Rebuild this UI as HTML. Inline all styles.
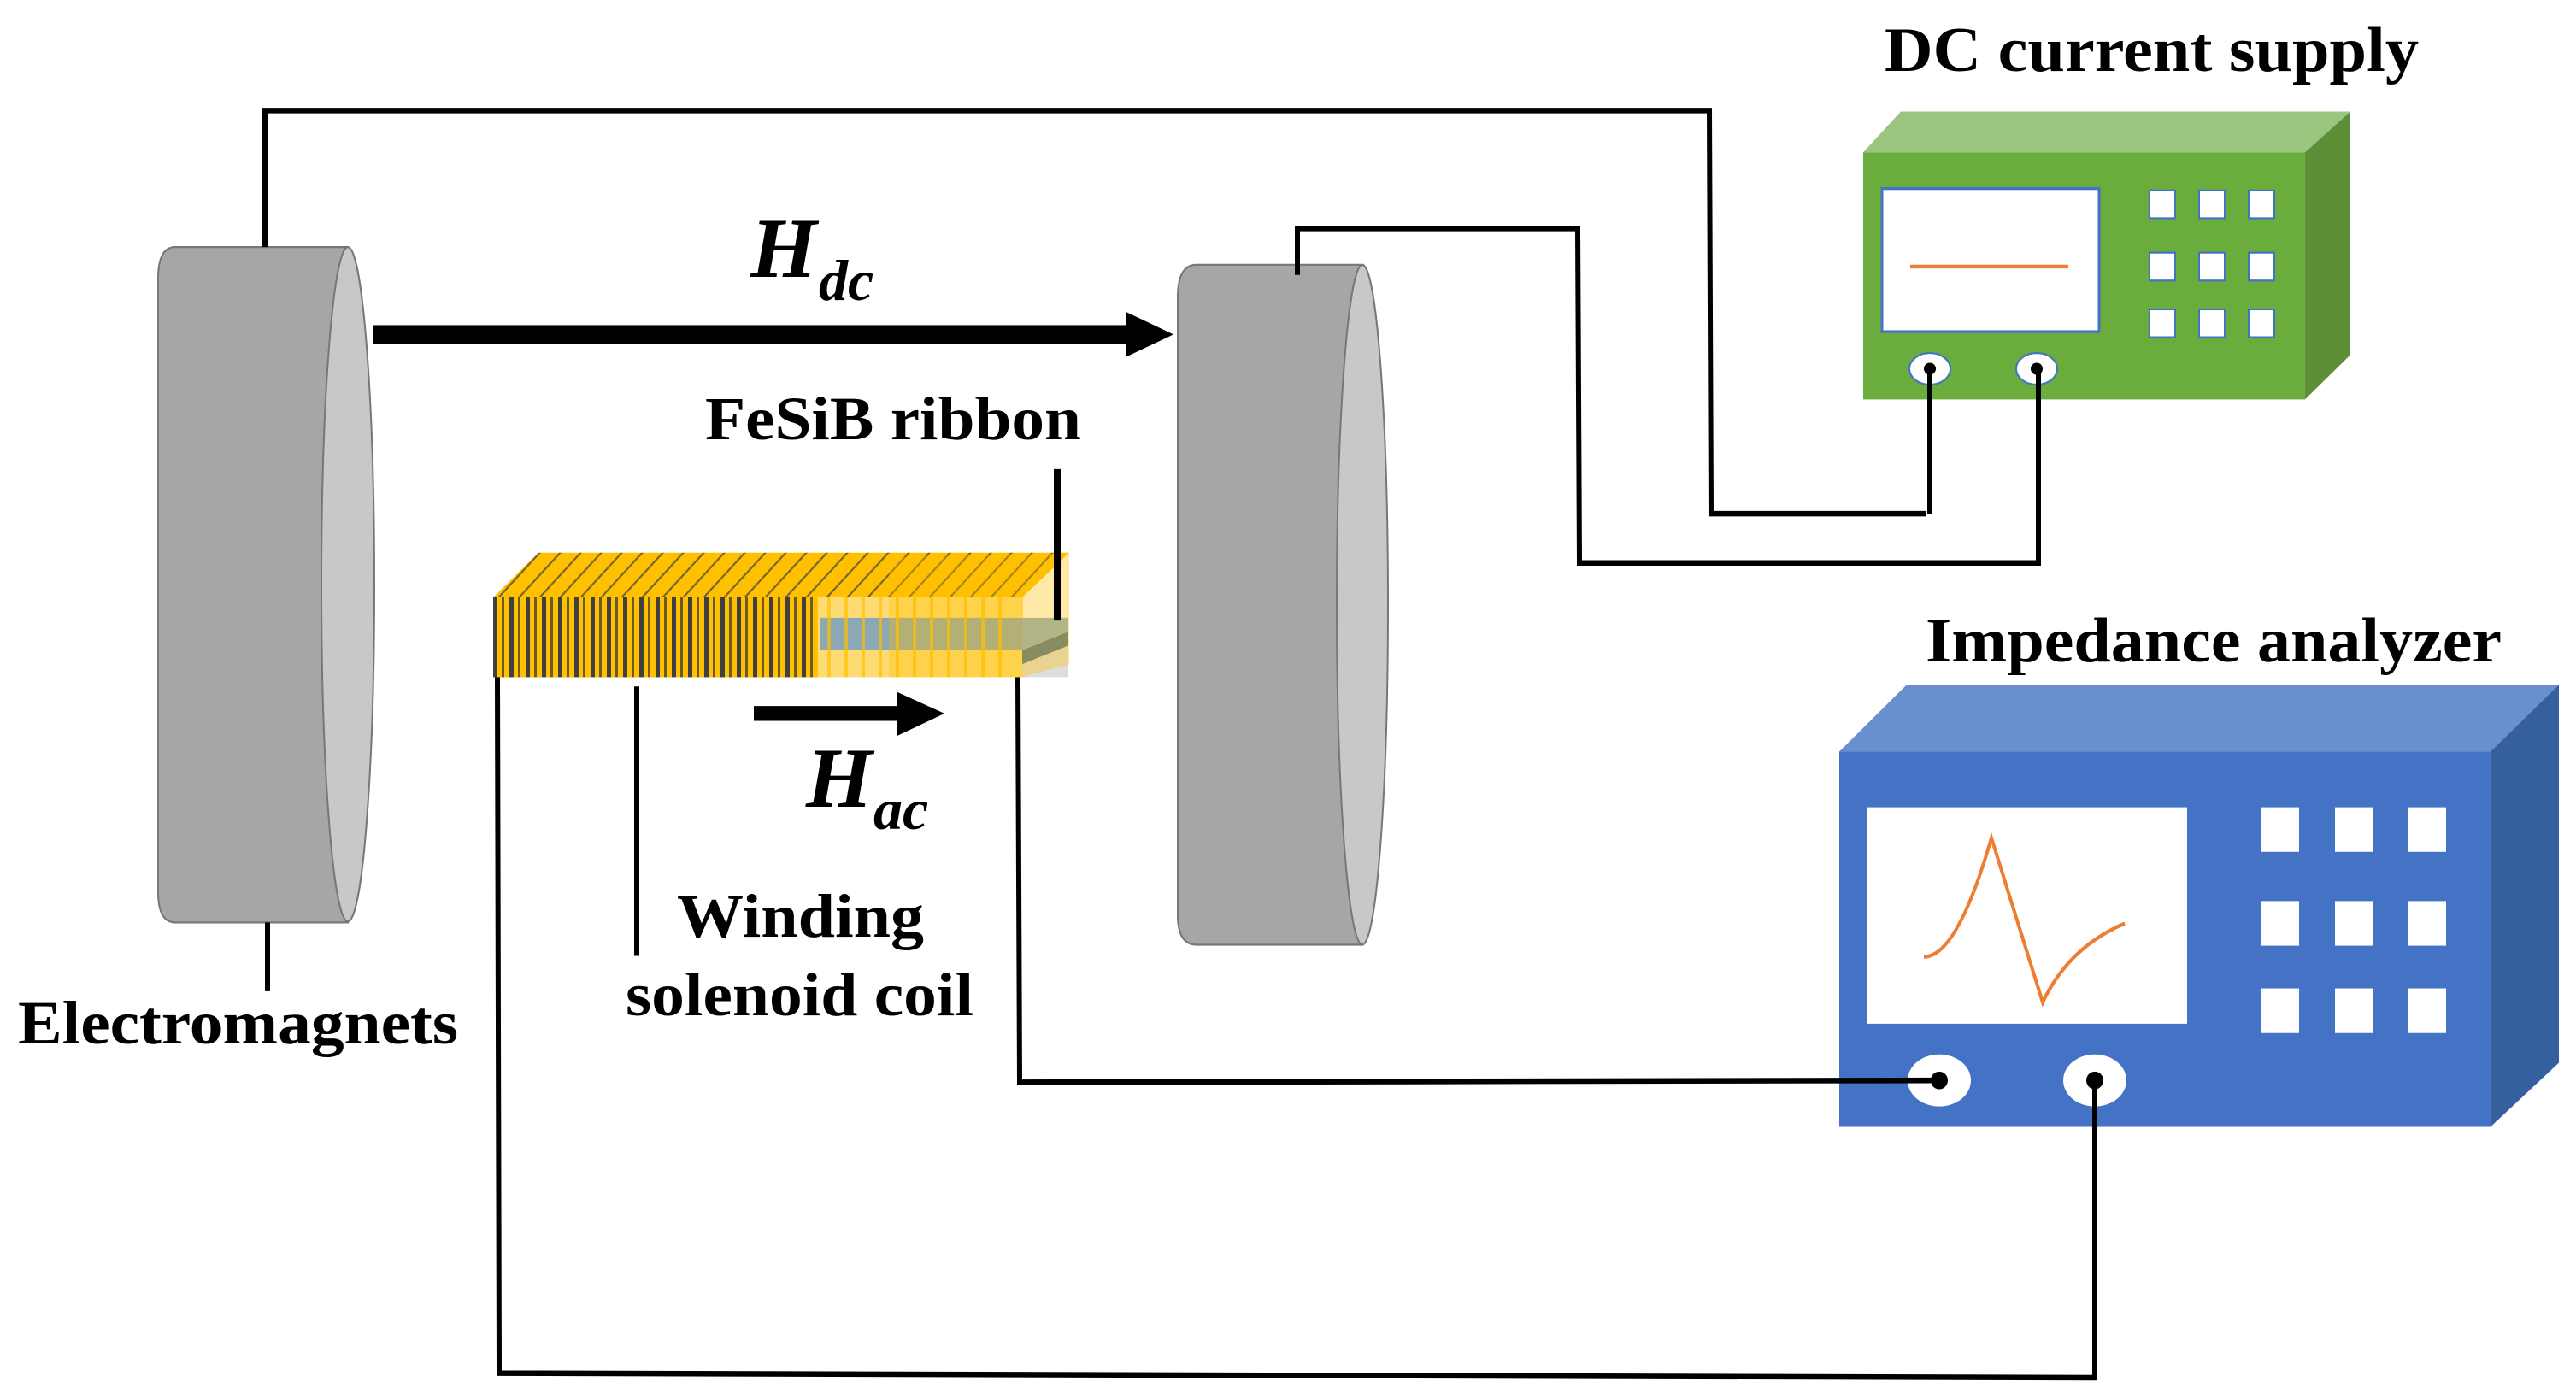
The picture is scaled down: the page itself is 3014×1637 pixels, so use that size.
<!DOCTYPE html>
<html><head><meta charset="utf-8"><style>
html,body{margin:0;padding:0;background:#fff;}
svg{display:block;}
text{font-family:"Liberation Serif",serif;font-weight:bold;fill:#000;}
</style></head><body>
<svg width="3014" height="1637" viewBox="0 0 3014 1637" xmlns="http://www.w3.org/2000/svg">
<defs>
<pattern id="coil" x="577" y="0" width="19" height="10" patternUnits="userSpaceOnUse">
<rect width="19" height="10" fill="#ffc000"/><rect x="0" width="5" height="10" fill="#404040"/><rect x="10" width="3" height="10" fill="#6b5a2a"/>
</pattern>
<pattern id="coilt" x="577" y="0" width="24" height="10" patternUnits="userSpaceOnUse" patternTransform="skewX(-45)">
<rect width="24" height="10" fill="#ffc000"/><rect x="0" width="3" height="10" fill="#7a6530"/>
</pattern>
</defs>
<g transform="scale(1,1.087)">
<path d="M407,266 L205,266 Q185,266 185,300 L185,960 Q185,993 205,993 L407,993 Z" fill="#a6a6a6" stroke="#777" stroke-width="2"/>
<ellipse cx="407" cy="629" rx="31" ry="363" fill="#c8c8c8" stroke="#777" stroke-width="2"/>
<path d="M1594,285 L1400,285 Q1378,285 1378,320 L1378,985 Q1378,1017 1400,1017 L1594,1017 Z" fill="#a6a6a6" stroke="#777" stroke-width="2"/>
<ellipse cx="1594" cy="651" rx="30" ry="366" fill="#c8c8c8" stroke="#777" stroke-width="2"/>
<rect x="436" y="350" width="890" height="20" fill="#000"/>
<polygon points="1318,336 1373,360 1318,384" fill="#000"/>
<polygon points="577,643 630,595 1251,595 1196,643" fill="url(#coilt)"/>
<rect x="577" y="643" width="380" height="86" fill="url(#coil)"/>
<rect x="957" y="643" width="240" height="86" fill="#ffc000" opacity="0.55"/>
<polygon points="960,665 1250,665 1250,680 1196,700 960,700" fill="#6f9bc4" opacity="0.8"/>
<polygon points="1196,700 1250,680 1250,695 1196,715" fill="#4a6f96"/>
<polygon points="1196,715 1250,695 1250,729 1196,729" fill="#ddd"/>
<polygon points="1040,600 1251,595 1251,715 1196,729 1040,729" fill="#ffc000" opacity="0.35"/>
<g stroke="#ffc000" stroke-width="4" opacity="0.7">
<line x1="970" y1="643" x2="970" y2="729"/><line x1="990" y1="643" x2="990" y2="729"/><line x1="1010" y1="643" x2="1010" y2="729"/><line x1="1030" y1="643" x2="1030" y2="729"/><line x1="1050" y1="643" x2="1050" y2="729"/><line x1="1070" y1="643" x2="1070" y2="729"/><line x1="1090" y1="643" x2="1090" y2="729"/><line x1="1110" y1="643" x2="1110" y2="729"/><line x1="1130" y1="643" x2="1130" y2="729"/><line x1="1150" y1="643" x2="1150" y2="729"/><line x1="1170" y1="643" x2="1170" y2="729"/>
</g>
<rect x="882" y="760" width="172" height="16" fill="#000"/>
<polygon points="1050,745 1105,768 1050,792" fill="#000"/>
<polygon points="2180,164 2224,120 2750,120 2697,164" fill="#9bc57f"/>
<polygon points="2697,164 2750,120 2750,382 2697,430" fill="#5c8f38"/>
<rect x="2180" y="164" width="517" height="266" fill="#6aad3c"/>
<rect x="2202" y="203" width="254" height="154" fill="#fff" stroke="#4472c4" stroke-width="3"/>
<line x1="2235" y1="287" x2="2420" y2="287" stroke="#ed7d31" stroke-width="4"/>
<g fill="#fff" stroke="#4472c4" stroke-width="2">
<rect x="2515" y="205" width="30" height="30"/><rect x="2573" y="205" width="30" height="30"/><rect x="2631" y="205" width="30" height="30"/>
<rect x="2515" y="272" width="30" height="30"/><rect x="2573" y="272" width="30" height="30"/><rect x="2631" y="272" width="30" height="30"/>
<rect x="2515" y="333" width="30" height="30"/><rect x="2573" y="333" width="30" height="30"/><rect x="2631" y="333" width="30" height="30"/>
<ellipse cx="2258" cy="397" rx="24" ry="17"/><ellipse cx="2383" cy="397" rx="24" ry="17"/>
</g>
<polygon points="2152,809 2231,737 2994,737 2914,809" fill="#6a8fcf"/>
<polygon points="2914,809 2994,737 2994,1144 2914,1213" fill="#365f9e"/>
<rect x="2152" y="809" width="762" height="404" fill="#4472c4"/>
<rect x="2185" y="869" width="374" height="233" fill="#fff"/>
<path d="M2251,1030 Q2290,1030 2330,902 L2390,1079 Q2420,1020 2486,994" fill="none" stroke="#ed7d31" stroke-width="4"/>
<g fill="#fff">
<rect x="2646" y="869" width="44" height="48"/><rect x="2732" y="869" width="44" height="48"/><rect x="2818" y="869" width="44" height="48"/>
<rect x="2646" y="970" width="44" height="48"/><rect x="2732" y="970" width="44" height="48"/><rect x="2818" y="970" width="44" height="48"/>
<rect x="2646" y="1064" width="44" height="48"/><rect x="2732" y="1064" width="44" height="48"/><rect x="2818" y="1064" width="44" height="48"/>
<ellipse cx="2269" cy="1163" rx="37" ry="28"/><ellipse cx="2451" cy="1163" rx="37" ry="28"/>
</g>
<g fill="none" stroke="#000" stroke-width="6">
<polyline points="310,266 310,119 2000,119 2002,553 2253,553"/>
<polyline points="1518,296 1518,246 1846,246 1848,606 2385,606 2385,397"/>
<line x1="2258" y1="397" x2="2258" y2="553"/>
<line x1="313" y1="993" x2="313" y2="1067"/>
<polyline points="582,729 584,1478 2451,1483 2451,1163"/>
<polyline points="1191,729 1193,1165 2269,1163"/>
<line x1="745" y1="739" x2="745" y2="1029"/>
<line x1="1237" y1="505" x2="1237" y2="668" stroke-width="8"/>
</g>
<ellipse cx="2258" cy="397" rx="7" ry="6.5" fill="#000"/><ellipse cx="2383" cy="397" rx="7" ry="6.5" fill="#000"/>
<ellipse cx="2269" cy="1163" rx="10" ry="9.5" fill="#000"/><ellipse cx="2451" cy="1163" rx="10" ry="9.5" fill="#000"/>
</g>
<text x="878" y="324" font-size="100" font-style="italic">H</text>
<text x="958" y="351" font-size="68" font-style="italic">dc</text>
<text x="943" y="944" font-size="100" font-style="italic">H</text>
<text x="1022" y="970" font-size="68" font-style="italic">ac</text>
<text x="825" y="514" font-size="72" textLength="440" lengthAdjust="spacingAndGlyphs">FeSiB ribbon</text>
<text x="792" y="1096" font-size="72" textLength="289" lengthAdjust="spacingAndGlyphs">Winding</text>
<text x="732" y="1188" font-size="72" textLength="407" lengthAdjust="spacingAndGlyphs">solenoid coil</text>
<text x="21" y="1221" font-size="72" textLength="515" lengthAdjust="spacingAndGlyphs">Electromagnets</text>
<text x="2205" y="83" font-size="74" textLength="625" lengthAdjust="spacingAndGlyphs">DC current supply</text>
<text x="2253" y="774" font-size="74" textLength="674" lengthAdjust="spacingAndGlyphs">Impedance analyzer</text>
</svg>
</body></html>
